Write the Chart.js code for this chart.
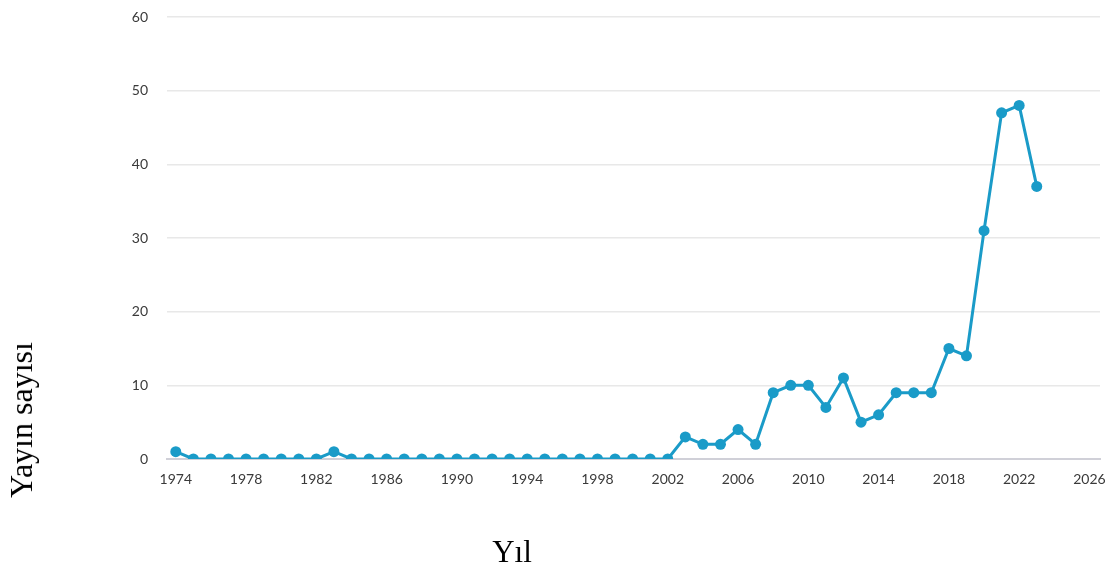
<!DOCTYPE html>
<html>
<head>
<meta charset="utf-8">
<script src="https://cdn.jsdelivr.net/npm/chart.js@4.4.1/dist/chart.umd.min.js"></script>
<style>
  html, body { margin: 0; padding: 0; background: #fff; }
  #wrap { position: relative; width: 1109px; height: 570px; overflow: hidden; }
  #myChart { position: absolute; left: 0; top: 0; }
  .ttl { position: absolute; font-family: "Liberation Serif", "DejaVu Serif", serif; color: #000; white-space: nowrap; line-height: 1; }
  #ytitle { left: 21px; top: 420px; font-size: 32px; transform: translate(-50%, -50%) rotate(-90deg); }
  #xtitle { left: 512px; top: 551px; font-size: 31px; transform: translate(-50%, -50%); }
</style>
</head>
<body>
<div id="wrap">
  <canvas id="myChart" width="1109" height="570"></canvas>
  <div class="ttl" id="ytitle">Yayın sayısı</div>
  <div class="ttl" id="xtitle">Yıl</div>
</div>
<script>
// 연도별 데이터
var years = [1974, 1975, 1976, 1977, 1978, 1979, 1980, 1981, 1982, 1983, 1984, 1985, 1986,
  1987, 1988, 1989, 1990, 1991, 1992, 1993, 1994, 1995, 1996, 1997, 1998, 1999, 2000, 2001,
  2002, 2003, 2004, 2005, 2006, 2007, 2008, 2009, 2010, 2011, 2012, 2013, 2014, 2015, 2016,
  2017, 2018, 2019, 2020, 2021, 2022, 2023];
var counts = [1, 0, 0, 0, 0, 0, 0, 0, 0, 1, 0, 0, 0,
  0, 0, 0, 0, 0, 0, 0, 0, 0, 0, 0, 0, 0, 0, 0,
  0, 3, 2, 2, 4, 2, 9, 10, 10, 7, 11, 5, 6, 9, 9,
  9, 15, 14, 31, 47, 48, 37];
// 축 눈금
var yearTicks = [1974, 1978, 1982, 1986, 1990, 1994, 1998, 2002, 2006, 2010, 2014, 2018, 2022, 2026];
var countTicks = [0, 10, 20, 30, 40, 50, 60];

var lineColor = '#1a9bc8';
var tickFont = { family: 'Lato, "Open Sans", sans-serif', size: 14 };

var points = years.map((y, i) => ({ x: y, y: counts[i] }));

const chartConfig = {
  type: 'line',
  data: {
    datasets: [{
      label: 'Yayın sayısı',
      data: points,
      borderColor: lineColor,
      backgroundColor: lineColor,
      borderWidth: 3,
      pointRadius: 5.5,
      pointBorderWidth: 0,
      pointBackgroundColor: lineColor,
      tension: 0,
    }],
  },
  options: {
    responsive: false,
    animation: false,
    layout: { padding: { top: 17, right: 9, left: 0, bottom: 0 } },
    plugins: {
      legend: { display: false },
      title: { display: false },
      tooltip: { enabled: false },
    },
    scales: {
      x: {
        type: 'linear',
        min: 1973.5,
        max: 2026.6,
        afterBuildTicks: (scale) => {
          scale.ticks = yearTicks.map(v => ({ value: v }));
        },
        afterFit: (scale) => {
          scale.height = 111;
          // 마지막 라벨 때문에 오른쪽 여백이 생기지 않게
          scale.paddingRight = 0;
          scale.paddingLeft = 0;
        },
        grid: { display: false, drawTicks: false },
        border: { display: true, color: '#d0d0d8', width: 2 },
        ticks: {
          font: tickFont,
          color: '#3a3a3a',
          padding: 12,
          maxRotation: 0,
          autoSkip: false,
          callback: (v) => String(v),
        },
      },
      y: {
        min: 0,
        max: 60,
        afterBuildTicks: (scale) => {
          scale.ticks = countTicks.map(v => ({ value: v }));
        },
        afterFit: (scale) => {
          scale.width = 167;
          scale.paddingTop = 0;
          scale.paddingBottom = 0;
        },
        grid: { color: '#e8e8e8', lineWidth: 1.5, drawTicks: false },
        border: { display: false },
        ticks: {
          font: tickFont,
          color: '#3a3a3a',
          padding: 19,
        },
      },
    },
  },
};

var myChart = new Chart(document.querySelector('#myChart'), chartConfig);
</script>
</body>
</html>
